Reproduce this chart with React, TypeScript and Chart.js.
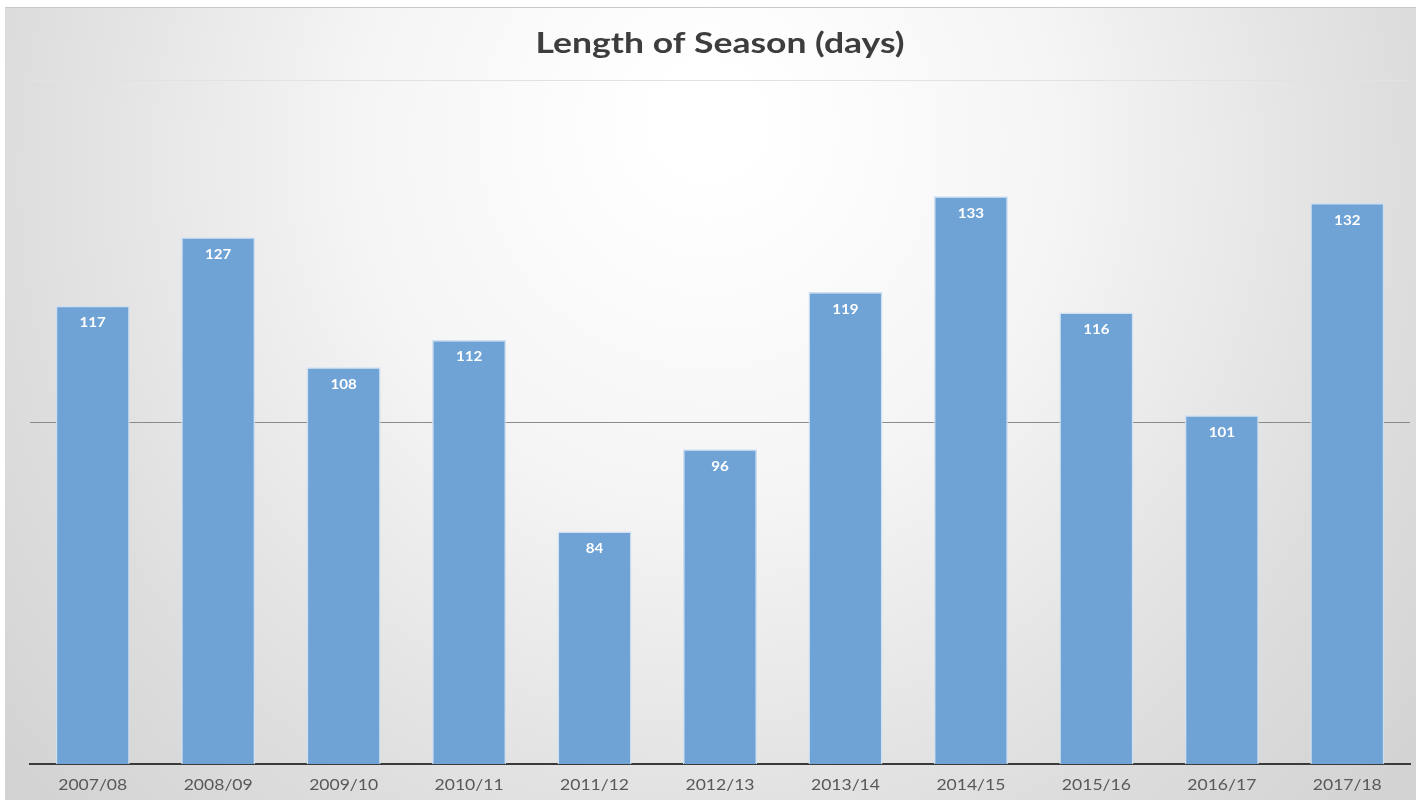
import React, { useEffect, useRef } from "react";
import { Chart, registerables } from "chart.js";

Chart.register(...registerables);

const seasons = ["2007/08", "2008/09", "2009/10", "2010/11", "2011/12", "2012/13", "2013/14", "2014/15", "2015/16", "2016/17", "2017/18"];
const days = [117, 127, 108, 112, 84, 96, 119, 133, 116, 101, 132];
const titleText = "Length of Season (days)";
const yMin = 50;
const yMax = 150;

function stretchedText(ctx: any, text: string, x: number, y: number, sx: number) {
  ctx.save();
  ctx.translate(x, y);
  ctx.scale(sx, 1);
  ctx.fillText(text, 0, 0);
  ctx.restore();
}

const bgPlugin = {
  id: "bgGradient",
  beforeDraw(chart: any) {
    const { ctx, width, height } = chart;
    ctx.save();
    ctx.fillStyle = "#ffffff";
    ctx.fillRect(0, 0, width, height);
    const g = ctx.createRadialGradient(width / 2, 120, 50, width / 2, 200, 900);
    g.addColorStop(0, "#ffffff");
    g.addColorStop(0.35, "#f5f5f5");
    g.addColorStop(0.75, "#dedede");
    g.addColorStop(1, "#d3d3d3");
    ctx.fillStyle = g;
    ctx.fillRect(5, 7, width - 5, height - 7);
    ctx.strokeStyle = "#c8c8c8";
    ctx.lineWidth = 1;
    ctx.beginPath();
    ctx.moveTo(5, 7.5);
    ctx.lineTo(width, 7.5);
    ctx.stroke();
    ctx.font = "bold 28px Lato, 'Open Sans', sans-serif";
    ctx.fillStyle = "#3d3d3d";
    ctx.textAlign = "center";
    ctx.textBaseline = "alphabetic";
    const w = ctx.measureText(titleText).width;
    stretchedText(ctx, titleText, 720, 53, 369 / w);
    ctx.restore();
  },
};

const labelPlugin = {
  id: "barLabels",
  afterDatasetsDraw(chart: any) {
    const { ctx } = chart;
    const meta = chart.getDatasetMeta(0);
    ctx.save();
    ctx.font = "bold 14px Lato, 'Open Sans', sans-serif";
    ctx.fillStyle = "#ffffff";
    ctx.textAlign = "center";
    ctx.textBaseline = "middle";
    meta.data.forEach((bar: any, i: number) => {
      stretchedText(ctx, String(chart.data.datasets[0].data[i]), bar.x, bar.y + 17, 1.08);
    });
    ctx.font = "15px Lato, 'Open Sans', sans-serif";
    ctx.fillStyle = "#595959";
    ctx.textBaseline = "alphabetic";
    const xs = chart.scales.x;
    chart.data.labels.forEach((lab: string, i: number) => {
      stretchedText(ctx, lab, xs.getPixelForValue(i), 790, 1.17);
    });
    ctx.restore();
  },
};

export default function App() {
  const ref = useRef<HTMLCanvasElement>(null);
  useEffect(() => {
    document.body.style.margin = "0";
    const chart = new Chart(ref.current!, {
      type: "bar",
      data: {
        labels: seasons,
        datasets: [
          {
            data: days,
            backgroundColor: "#6fa3d6",
            borderColor: "#cfe0f2",
            borderWidth: 1.5,
            barPercentage: 0.59,
            categoryPercentage: 1,
          },
        ],
      },
      options: {
        animation: false,
        responsive: false,
        maintainAspectRatio: false,
        layout: { padding: { left: 30, right: 6, top: 80, bottom: 0 } },
        plugins: {
          legend: { display: false },
          title: { display: false },
          tooltip: { enabled: false },
        },
        scales: {
          x: {
            grid: { display: false, drawTicks: false },
            border: { display: true, color: "#3a3a3a", width: 2 },
            ticks: { display: false },
            afterFit(scale: any) {
              scale.height = 36;
            },
          },
          y: {
            min: yMin,
            max: yMax,
            ticks: { display: false, stepSize: 50 },
            border: { display: false },
            grid: {
              drawTicks: false,
              color: (c: any) => (c.tick && c.tick.value === 100 ? "#8a8a8a" : c.tick && c.tick.value === 150 ? "#e2e2e2" : "rgba(0,0,0,0)"),
              lineWidth: 1,
            },
            afterFit(scale: any) {
              scale.width = 0;
            },
          },
        },
      },
      plugins: [bgPlugin, labelPlugin],
    });
    return () => chart.destroy();
  }, []);
  return <canvas ref={ref} width={1416} height={800} style={{ display: "block" }} />;
}
